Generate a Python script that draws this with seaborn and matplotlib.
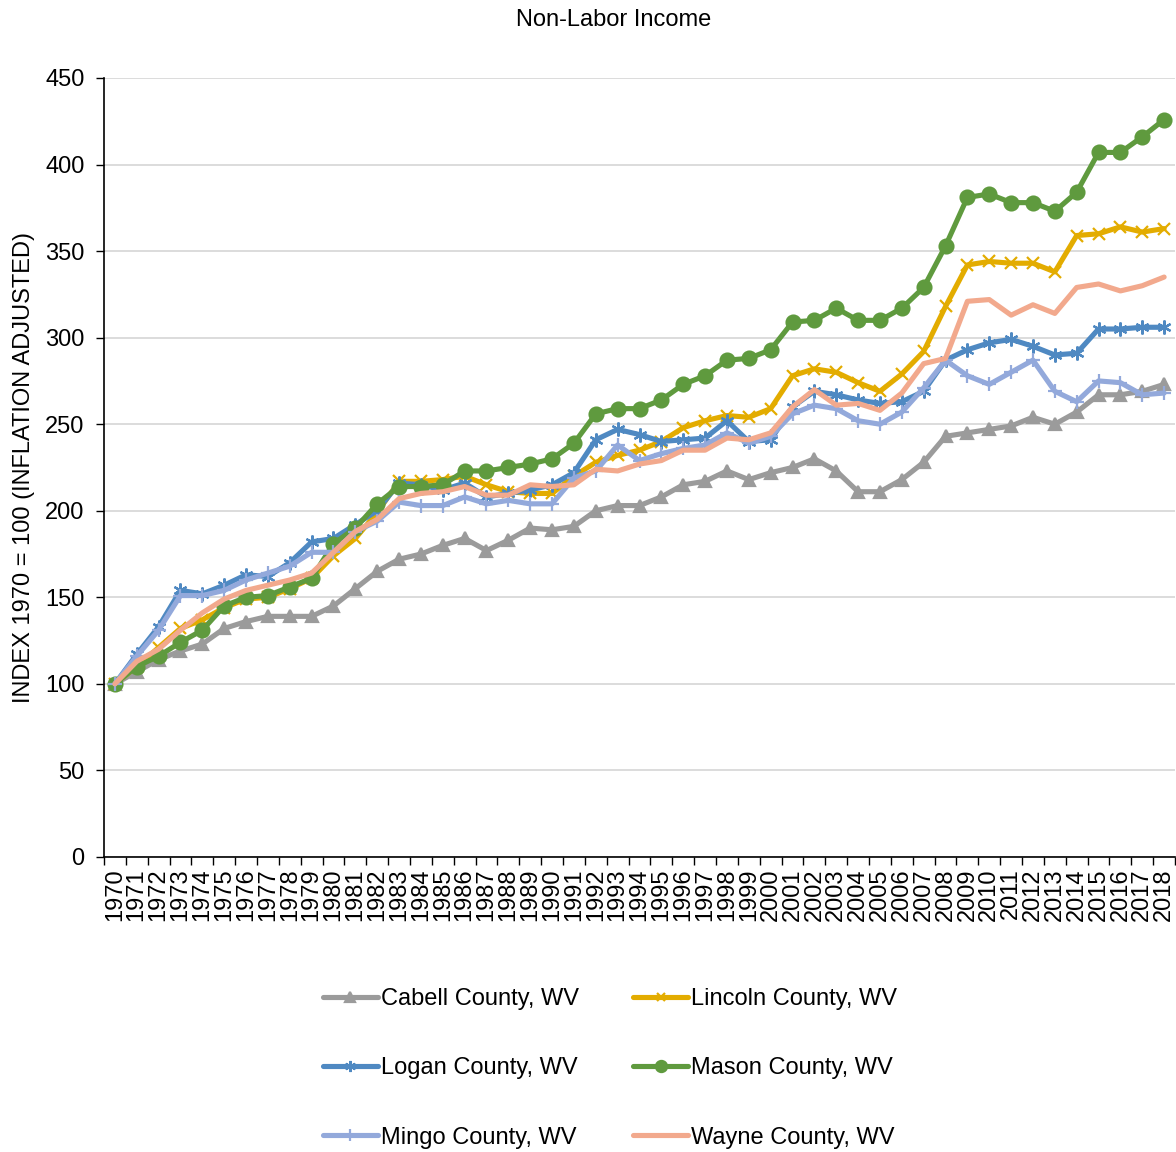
import numpy as np
import pandas as pd
import matplotlib
matplotlib.use("Agg")
import matplotlib.pyplot as plt
import seaborn as sns

years = list(range(1970, 2019))

cabell = [100, 107, 114, 119, 123, 132, 136, 139, 139, 139,
          145, 155, 165, 172, 175, 180, 184, 177, 183, 190,
          189, 191, 200, 203, 203, 208, 215, 217, 223, 218,
          222, 225, 230, 223, 211, 211, 218, 228, 243, 245,
          247, 249, 254, 250, 257, 267, 267, 269, 273]

lincoln = [100, 110, 121, 132, 137, 144, 149, 150, 155, 161,
           174, 184, 199, 217, 217, 218, 220, 215, 211, 210,
           210, 220, 228, 232, 235, 240, 248, 252, 255, 254,
           259, 278, 282, 280, 274, 269, 279, 292, 318, 342,
           344, 343, 343, 338, 359, 360, 364, 361, 363]

logan = [100, 117, 133, 154, 152, 157, 163, 162, 170, 182,
         184, 192, 200, 216, 215, 212, 216, 208, 210, 212,
         215, 222, 241, 247, 244, 240, 241, 242, 252, 240,
         241, 260, 269, 267, 264, 262, 263, 269, 287, 293,
         297, 299, 295, 290, 291, 305, 305, 306, 306]

mason = [100, 110, 116, 124, 131, 145, 150, 151, 156, 161,
         181, 190, 204, 214, 214, 215, 223, 223, 225, 227,
         230, 239, 256, 259, 259, 264, 273, 278, 287, 288,
         293, 309, 310, 317, 310, 310, 317, 329, 353, 381,
         383, 378, 378, 373, 384, 407, 407, 416, 426]

mingo = [100, 116, 131, 151, 151, 154, 160, 164, 168, 176,
         176, 188, 194, 205, 203, 203, 208, 204, 206, 204,
         204, 219, 223, 238, 229, 233, 236, 238, 245, 239,
         243, 256, 261, 259, 252, 250, 257, 271, 287, 278,
         273, 280, 287, 269, 263, 275, 274, 267, 268]

wayne = [100, 113, 120, 131, 141, 149, 154, 157, 160, 164,
         176, 188, 195, 207, 210, 211, 214, 209, 209, 215,
         214, 215, 224, 223, 227, 229, 235, 235, 242, 241,
         245, 260, 270, 261, 262, 258, 268, 285, 288, 321,
         322, 313, 319, 314, 329, 331, 327, 330, 335]

counties = ["Cabell County, WV", "Lincoln County, WV", "Logan County, WV",
            "Mason County, WV", "Mingo County, WV", "Wayne County, WV"]
series = [cabell, lincoln, logan, mason, mingo, wayne]

colors = ["#9B9B9B", "#E3AC00", "#4F89C2", "#5F9A3E", "#93A9DB", "#F2A98D"]
markers = ["^", "x", (6, 2, 0), "o", "+", None]
msizes = [9, 8, 10, 10, 10, 0]

frames = []
for name, vals in zip(counties, series):
    frames.append(pd.DataFrame({"pos": np.arange(len(years)), "year": years,
                                "value": vals, "county": name}))
df = pd.concat(frames, ignore_index=True)

sns.set_theme(style="white")
plt.rcParams["font.family"] = ["Liberation Sans", "DejaVu Sans"]
plt.rcParams["text.color"] = "#000000"
plt.rcParams["axes.labelcolor"] = "#000000"
plt.rcParams["xtick.color"] = "#000000"
plt.rcParams["ytick.color"] = "#000000"

fig = plt.figure(figsize=(11.76, 11.52), dpi=100)
ax = fig.add_axes([0.0884, 0.2561, 0.9108, 0.6762])

for name, col, mk, ms in zip(counties, colors, markers, msizes):
    sub = df[df["county"] == name]
    kw = {}
    if mk is not None:
        kw = dict(marker=mk, markersize=ms, markeredgewidth=1.6,
                  markeredgecolor=col, markerfacecolor=col)
    sns.lineplot(data=sub, x="pos", y="value", ax=ax, color=col,
                 linewidth=3.7, label=name, **kw)

ax.set_xlim(-0.5, len(years) - 0.5)
ax.set_ylim(0, 450)
ax.set_yticks(np.arange(0, 451, 50))
ax.yaxis.grid(True, color="#D9D9D9", linewidth=1.3)
ax.set_axisbelow(True)

ax.set_xticks(np.arange(len(years)))
ax.set_xticklabels([str(y) for y in years], rotation=90)
ax.set_xticks(np.arange(-0.5, len(years), 1.0), minor=True)
ax.tick_params(axis="x", which="major", length=0, pad=8, labelsize=17,
               labelcolor="#000000")
ax.tick_params(axis="x", which="minor", length=6, width=1, color="#000000",
               bottom=True)
ax.tick_params(axis="y", which="major", length=6, width=1, color="#000000",
               left=True, labelsize=17, pad=8, labelcolor="#000000")

for side in ["top", "right"]:
    ax.spines[side].set_visible(False)
for side in ["left", "bottom"]:
    ax.spines[side].set_color("#000000")
    ax.spines[side].set_linewidth(1.2)

ax.set_xlabel("")
ax.set_ylabel("INDEX 1970 = 100 (INFLATION ADJUSTED)", fontsize=17,
              labelpad=7, color="#000000")
fig.text(0.5215, 0.9825, "Non-Labor Income", ha="center", va="center",
         fontsize=17, color="#000000")

hs, ls = ax.get_legend_handles_labels()
ax.get_legend().remove()
order = [0, 2, 4, 1, 3, 5]
leg = fig.legend([hs[i] for i in order], [ls[i] for i in order],
                 loc="center", bbox_to_anchor=(0.5185, 0.0725), ncol=2,
                 frameon=False, fontsize=17, handlelength=2.35,
                 handletextpad=0.1, columnspacing=2.3, labelspacing=2.0,
                 markerscale=0.8)
for t in leg.get_texts():
    t.set_color("#000000")

fig.savefig("out.png", dpi=100)
